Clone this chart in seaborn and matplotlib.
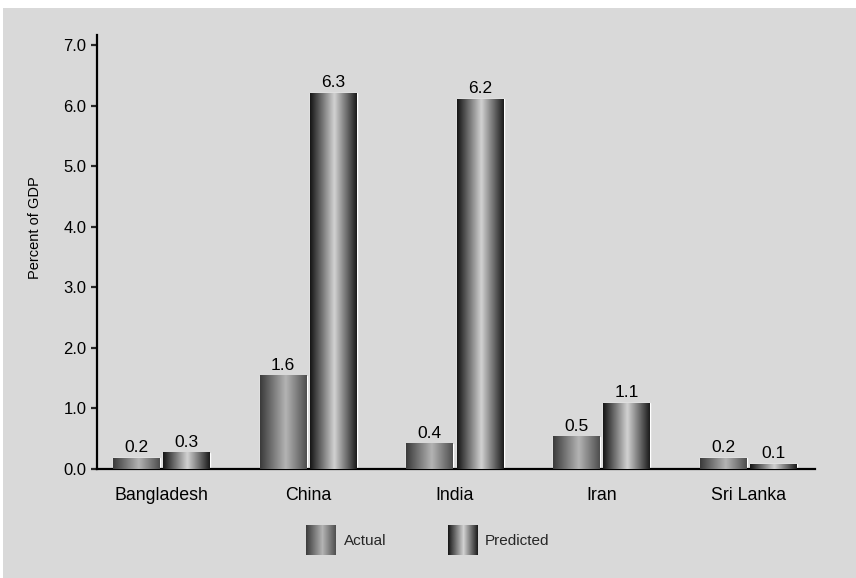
import numpy as np
import pandas as pd
import matplotlib
matplotlib.use("Agg")
import matplotlib.pyplot as plt
import seaborn as sns
from matplotlib.colors import LinearSegmentedColormap
from matplotlib.legend_handler import HandlerBase
from matplotlib.image import BboxImage
from matplotlib.transforms import Bbox, TransformedBbox
from matplotlib.patches import Rectangle

# --- data ---
countries = ["Bangladesh", "China", "India", "Iran", "Sri Lanka"]
actual = [0.18, 1.54, 0.42, 0.53, 0.18]
predicted = [0.27, 6.21, 6.11, 1.09, 0.08]
actual_labels = ["0.2", "1.6", "0.4", "0.5", "0.2"]
predicted_labels = ["0.3", "6.3", "6.2", "1.1", "0.1"]
series = ["Actual", "Predicted"]
y_ticks = [0, 1, 2, 3, 4, 5, 6, 7]

df = pd.DataFrame({
    "country": countries * 2,
    "value": actual + predicted,
    "series": ["Actual"] * len(countries) + ["Predicted"] * len(countries),
})

BG = "#d9d9d9"
cmaps = {
    "Actual": LinearSegmentedColormap.from_list(
        "act", [(0, "#3a3a3a"), (0.55, "#b4b4b4"), (1, "#4e4e4e")]),
    "Predicted": LinearSegmentedColormap.from_list(
        "pred", [(0, "#141414"), (0.52, "#d2d2d2"), (1, "#1a1a1a")]),
}
grad = np.linspace(0, 1, 256).reshape(1, -1)

sns.set_theme(style="white")
plt.rcParams["font.family"] = ["Liberation Sans", "DejaVu Sans"]

fig = plt.figure(figsize=(8.56, 5.78), dpi=100, facecolor="white")
# gray panel (image is cropped on the top/left by a thin white margin)
fig.patches.append(Rectangle((3 / 856, 0), 1, 1 - 8 / 578, transform=fig.transFigure,
                             facecolor=BG, edgecolor="none", zorder=-5))
ax = fig.add_axes([97 / 856, 1 - 469 / 578, (815 - 97) / 856, (469 - 35) / 578])
ax.set_facecolor("none")

sns.barplot(data=df, x="country", y="value", hue="series", hue_order=series,
            palette=["#777777", "#555555"], width=0.686, gap=0.067,
            legend=False, ax=ax, saturation=1)

# gradient fill on each bar
for name, cont, labels in zip(series, ax.containers, [actual_labels, predicted_labels]):
    for bar in cont:
        x0, y0 = bar.get_x(), bar.get_y()
        w, h = bar.get_width(), bar.get_height()
        ax.imshow(grad, extent=[x0, x0 + w, y0, y0 + h], aspect="auto",
                  cmap=cmaps[name], interpolation="bicubic", zorder=3)
    ax.bar_label(cont, labels=labels, padding=2, fontsize=12.5, color="black")

ax.set_xlim(-0.44, 4.455)
ax.set_ylim(0, 7.17)
ax.set_yticks(y_ticks)
ax.set_yticklabels([f"{t:.1f}" for t in y_ticks])
ax.set_xlabel("")
ax.set_ylabel("Percent of GDP", fontsize=10.5, color="black")
ax.yaxis.set_label_coords(-0.077, 0.557)

sns.despine(ax=ax)
for s in ["left", "bottom"]:
    ax.spines[s].set_linewidth(1.6)
    ax.spines[s].set_color("black")
ax.tick_params(axis="y", which="major", left=True, length=4, width=1.6,
               direction="out", pad=3.5, labelsize=12, labelcolor="black")
ax.tick_params(axis="x", bottom=False, pad=7, labelsize=12.8, labelcolor="black")


class GradHandler(HandlerBase):
    def create_artists(self, legend, orig_handle, xdescent, ydescent,
                       width, height, fontsize, trans):
        bb = TransformedBbox(Bbox.from_bounds(-xdescent, -ydescent, width, height), trans)
        img = BboxImage(bb, cmap=cmaps[orig_handle.get_label()], interpolation="bicubic")
        img.set_data(grad)
        return [img]


handles = [Rectangle((0, 0), 1, 1, label=s) for s in series]
fig.legend(handles=handles, labels=series, loc="center",
           bbox_to_anchor=(0.5, 1 - 540 / 578), ncol=2, frameon=False,
           fontsize=11, handlelength=1.96, handleheight=2.55, handletextpad=0.5,
           columnspacing=4.0, handler_map={Rectangle: GradHandler()})

fig.savefig("out.png", dpi=100, facecolor=fig.get_facecolor())
